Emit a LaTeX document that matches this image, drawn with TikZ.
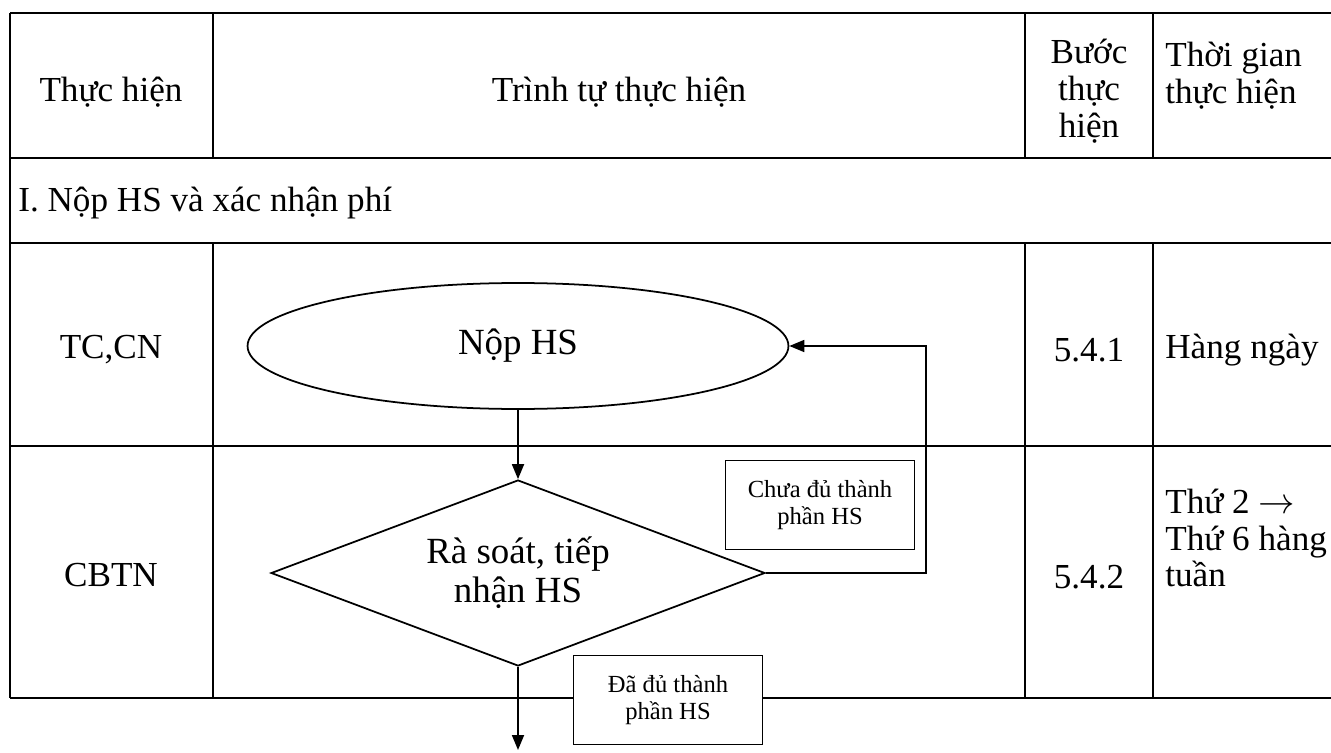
\documentclass[tikz,border=0pt]{standalone}
\usepackage{fontspec}
\setmainfont{Liberation Serif}
\usetikzlibrary{shapes.geometric,arrows.meta}

\begin{document}
\begin{tikzpicture}[x=0.02cm,y=-0.02cm,
    grid/.style={line width=1.1pt},
    cell/.style={font=\fontsize{20}{21}\selectfont, align=center, inner sep=0pt},
    leftcell/.style={cell, align=left, anchor=west},
    bigtext/.style={font=\fontsize{21}{22}\selectfont, align=center},
    notebox/.style={draw, fill=white, line width=1pt, minimum width=3.78cm, minimum height=1.78cm,
        align=center, font=\fontsize{14}{15.5}\selectfont},
    arr/.style={line width=1pt, -{Triangle[length=0.3cm,width=0.24cm]}}]
    \useasboundingbox (0,0) rectangle (1331,753);

    \draw[grid] (10,13) -- (1331,13);
    \draw[grid] (10,158) -- (1331,158);
    \draw[grid] (10,243) -- (1331,243);
    \draw[grid] (10,446) -- (1331,446);
    \draw[grid] (10,698) -- (1331,698);
    \draw[grid] (10,13) -- (10,698);
    \draw[grid] (213,13) -- (213,158);
    \draw[grid] (1025,13) -- (1025,158);
    \draw[grid] (1153,13) -- (1153,158);
    \draw[grid] (213,243) -- (213,698);
    \draw[grid] (1025,243) -- (1025,698);
    \draw[grid] (1153,243) -- (1153,698);

    \node[cell] (hdoer) at (111,92) {Thực hiện};
    \node[cell] (hseq) at (619,92) {Trình tự thực hiện};
    \node[cell] (hstep) at (1089,91) {Bước\\thực\\hiện};
    \node[leftcell] (htime) at (1165,76) {Thời gian\\thực hiện};
    \node[leftcell] (sec) at (18,203) {I. Nộp HS và xác nhận phí};

    \node[cell] (doer1) at (111,350) {TC,CN};
    \node[cell] (step1) at (1089,350) {5.4.1};
    \node[leftcell] (time1) at (1165,350) {Hàng ngày};
    \node[cell] (doer2) at (111,575) {CBTN};
    \node[cell] (step2) at (1089,577) {5.4.2};
    \node[leftcell] (time2) at (1165,538) {Thứ 2 $\rightarrow$\\Thứ 6 hàng\\tuần};

    \node[draw, ellipse, line width=1pt, minimum width=10.82cm, minimum height=2.52cm, bigtext] (nop) at (518,346) {Nộp HS};
    \node[draw, diamond, aspect=2.65, inner sep=0pt, line width=1pt, minimum width=9.88cm, minimum height=3.72cm, bigtext] (ra) at (518,573) {Rà soát, tiếp\\nhận HS};
    \node[notebox] (thieu) at (820,505) {Chưa đủ thành\\phần HS};
    \node[notebox] (du) at (668,700) {Đã đủ thành\\phần HS};

    \coordinate (loop) at (926,346);
    \coordinate (next) at (518,750);
    \draw[arr] (nop) -- (ra);
    \draw[arr] (ra.east) -| (loop) -- (nop.east);
    \draw[arr] (ra.south) -- (next);
\end{tikzpicture}
\end{document}
